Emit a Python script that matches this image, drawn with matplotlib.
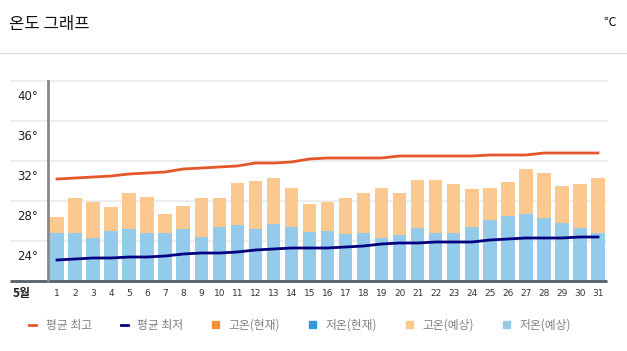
import matplotlib
matplotlib.use("Agg")
import matplotlib.pyplot as plt
from matplotlib.lines import Line2D
from matplotlib.patches import Patch

plt.rcParams['font.family'] = ['Noto Sans CJK KR', 'DejaVu Sans']

days = list(range(1, 32))

# 저온(예상) / 고온(예상)
low_fc = [24.8, 24.8, 24.3, 25.0, 25.2, 24.8, 24.8, 25.2, 24.4, 25.4,
          25.6, 25.2, 25.7, 25.4, 24.9, 25.0, 24.7, 24.8, 24.3, 24.6,
          25.3, 24.8, 24.8, 25.4, 26.1, 26.5, 26.7, 26.3, 25.8, 25.3, 24.8]
high_fc = [26.4, 28.3, 27.9, 27.4, 28.8, 28.4, 26.7, 27.5, 28.3, 28.3,
           29.8, 30.0, 30.3, 29.3, 27.7, 27.9, 28.3, 28.8, 29.3, 28.8,
           30.1, 30.1, 29.7, 29.2, 29.3, 29.9, 31.2, 30.8, 29.5, 29.7, 30.3]

# 평균 최고 / 평균 최저
avg_high = [30.2, 30.3, 30.4, 30.5, 30.7, 30.8, 30.9, 31.2, 31.3, 31.4,
            31.5, 31.8, 31.8, 31.9, 32.2, 32.3, 32.3, 32.3, 32.3, 32.5,
            32.5, 32.5, 32.5, 32.5, 32.6, 32.6, 32.6, 32.8, 32.8, 32.8, 32.8]
avg_low = [22.1, 22.2, 22.3, 22.3, 22.4, 22.4, 22.5, 22.7, 22.8, 22.8,
           22.9, 23.1, 23.2, 23.3, 23.3, 23.3, 23.4, 23.5, 23.7, 23.8,
           23.8, 23.9, 23.9, 23.9, 24.1, 24.2, 24.3, 24.3, 24.3, 24.4, 24.4]

y_ticks = [24, 28, 32, 36, 40]
y_min = 20

c_high_line = '#e4572a'
c_low_line = '#000080'
c_high_now = '#f7923a'
c_low_now = '#2f9bd8'
c_high_fc = '#fbc98f'
c_low_fc = '#94cbea'

fig = plt.figure(figsize=(6.27, 3.51), dpi=100)
ax = fig.add_axes([48 / 627, 70 / 351, 559 / 627, 200 / 351])

# 막대 (저온은 축 바닥부터, 고온은 저온 위에 쌓기)
low_part = [l - y_min for l in low_fc]
ax.bar(days, low_part, width=0.75, bottom=y_min, color=c_low_fc, zorder=2)
high_part = [h - l for h, l in zip(high_fc, low_fc)]
ax.bar(days, high_part, width=0.75, bottom=low_fc, color=c_high_fc, zorder=2)

# 평균선
ax.plot(days, avg_high, color=c_high_line, lw=2, zorder=3)
ax.plot(days, avg_low, color=c_low_line, lw=2, zorder=3)

ax.set_xlim(0.5, 31.5)
ax.set_ylim(y_min, 40)

# 격자선
ax.hlines(y_ticks, -0.068, 1, transform=ax.get_yaxis_transform(),
          colors='#eeeeee', lw=1.5, zorder=0, clip_on=False)
ax.hlines([y_min], -0.068, 1, transform=ax.get_yaxis_transform(),
          colors='#555f66', lw=2, zorder=4, clip_on=False)

for s in ['top', 'right', 'bottom']:
    ax.spines[s].set_visible(False)
ax.spines['left'].set_color('#888888')
ax.spines['left'].set_linewidth(2)
ax.spines['left'].set_zorder(5)

ax.set_yticks([])
for v in y_ticks:
    ax.text(-0.018, v - 1.6, f"{v}°", transform=ax.get_yaxis_transform(),
            ha='right', va='center', fontsize=8.5, color='#222222',
            family=['DejaVu Sans'])

ax.set_xticks(days)
ax.set_xticklabels([str(d) for d in days], fontsize=6.5, color='#333333',
                   family=['DejaVu Sans'])
ax.tick_params(axis='x', length=0, pad=6)

fig.text(22 / 627, 1 - 294 / 351, "5월", fontsize=8.5, fontweight='bold',
         color='#222222', ha='center', va='center', family=['Noto Sans CJK KR'])

# 제목
fig.text(9 / 627, 1 - 24 / 351, "온도 그래프", fontsize=12, color='#111111',
         ha='left', va='center')
fig.text(616 / 627, 1 - 22 / 351, "℃", fontsize=9, color='#111111',
         ha='right', va='center')
fig.add_artist(Line2D([0, 1], [1 - 53 / 351, 1 - 53 / 351],
                      transform=fig.transFigure, color='#dddddd', lw=1))

# 범례
handles = [
    Line2D([], [], color=c_high_line, lw=2),
    Line2D([], [], color=c_low_line, lw=2),
    Patch(color=c_high_now),
    Patch(color=c_low_now),
    Patch(color=c_high_fc),
    Patch(color=c_low_fc),
]
labels = ["평균 최고", "평균 최저", "고온(현재)", "저온(현재)", "고온(예상)", "저온(예상)"]
leg = fig.legend(handles, labels, loc='center', bbox_to_anchor=(300 / 627, 1 - 325 / 351),
                 ncol=6, frameon=False, fontsize=8.5, handlelength=0.6,
                 handleheight=0.6, handletextpad=0.8, columnspacing=2.45)
for t in leg.get_texts():
    t.set_color('#808080')

fig.savefig("out.png", dpi=100)
